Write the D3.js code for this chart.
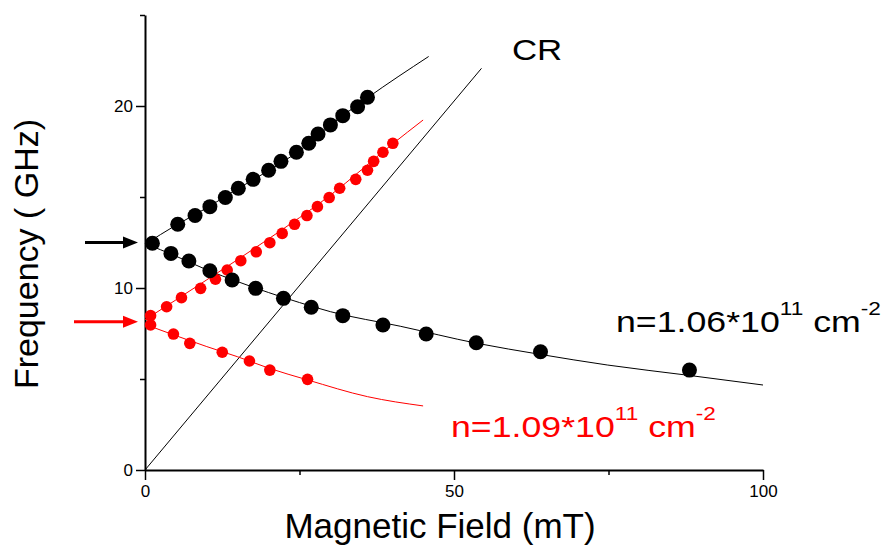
<!DOCTYPE html>
<html>
<head>
<meta charset="utf-8">
<script src="https://cdn.jsdelivr.net/npm/d3@7"></script>
<style>
  body { margin: 0; background: #fff; }
  text { font-family: "Liberation Sans", Arial, sans-serif; }
  .tick text { font-size: 17px; }
</style>
</head>
<body>
<svg id="chart" width="889" height="546"></svg>
<script>
// measured data points, field in mT, frequency in GHz
var blackUpperB = [1.2, 5.3, 8.1, 10.5, 13.0, 15.1, 17.5, 20.0, 22.0, 24.5, 26.5, 28.0, 30.0, 32.0, 34.4, 36.0];
var blackUpperF = [12.46, 13.5, 13.98, 14.47, 14.97, 15.48, 15.97, 16.47, 16.96, 17.46, 17.95, 18.46, 18.96, 19.47, 19.96, 20.48];
var blackLowerB = [4.2, 7.1, 10.5, 14.1, 17.9, 22.4, 26.9, 32.0, 38.5, 45.5, 53.6, 64.0, 88.1];
var blackLowerF = [11.9, 11.48, 10.95, 10.44, 9.98, 9.43, 8.94, 8.48, 7.97, 7.47, 6.99, 6.5, 5.49];
var redUpperB = [0.9, 3.5, 5.9, 9.0, 11.4, 13.3, 15.5, 18.0, 20.2, 22.2, 24.2, 26.2, 27.9, 29.8, 31.5, 34.1, 36.0, 37.0, 38.5, 40.1];
var redUpperF = [8.48, 8.97, 9.47, 9.98, 10.48, 10.99, 11.5, 11.99, 12.49, 13.0, 13.5, 13.98, 14.47, 14.97, 15.48, 15.97, 16.47, 16.96, 17.46, 17.95];
var redLowerB = [0.9, 4.6, 7.25, 12.5, 16.9, 20.2, 26.3];
var redLowerF = [7.97, 7.47, 6.96, 6.47, 5.99, 5.49, 4.98];

// fit curves
var fitBlackUpperB = [0, 5, 10, 15, 20, 25, 30, 36, 45.9];
var fitBlackUpperF = [12.4, 13.45, 14.4, 15.45, 16.45, 17.55, 18.95, 20.45, 22.72];
var fitBlackLowerB = [0, 5, 10, 15, 20, 25, 30, 41.3, 53.6, 64, 74.8, 88, 100];
var fitBlackLowerF = [12.45, 11.75, 11.0, 10.35, 9.75, 9.2, 8.7, 7.9, 6.97, 6.35, 5.77, 5.2, 4.67];
var fitRedUpperB = [0, 10, 20, 30, 40, 45];
var fitRedUpperF = [8.25, 10.45, 12.7, 15.1, 17.9, 19.23];
var fitRedLowerB = [0, 5, 10, 15, 20, 26.3, 36, 45];
var fitRedLowerF = [8.0, 7.38, 6.78, 6.22, 5.6, 4.95, 4.03, 3.52];
var crB = [0, 54.45];
var crF = [0, 22.07];

var arrowF = [12.5, 8.15];
var arrowColors = ["#000", "#f00"];

var xMajor = [0, 50, 100], xMinor = [25, 75];
var yMajor = [0, 10, 20], yMinor = [5, 15, 25];

var svg = d3.select("#chart");
var margin = {top: 15, left: 145, right: 126, bottom: 76};
var width = 889 - margin.left - margin.right;
var height = 546 - margin.top - margin.bottom;

var x = d3.scaleLinear().domain([0, 100]).range([0, width]);
var y = d3.scaleLinear().domain([0, 25]).range([height, 0]);

var g = svg.append("g").attr("transform", "translate(" + margin.left + "," + margin.top + ")");

var zip = function(a, b) { return a.map(function(v, i) { return [v, b[i]]; }); };
var line = d3.line().x(function(d) { return x(d[0]); }).y(function(d) { return y(d[1]); });
var curve = d3.line().curve(d3.curveMonotoneX).x(function(d) { return x(d[0]); }).y(function(d) { return y(d[1]); });

// axes
g.append("g").attr("transform", "translate(0," + height + ")")
    .call(d3.axisBottom(x).tickValues(xMajor).tickSize(10).tickSizeOuter(0).tickPadding(5));
g.append("g").attr("transform", "translate(0," + height + ")")
    .call(d3.axisBottom(x).tickValues(xMinor).tickSize(5).tickSizeOuter(0).tickFormat(""))
    .select(".domain").remove();
g.append("g")
    .call(d3.axisLeft(y).tickValues(yMajor).tickSize(9).tickSizeOuter(0).tickPadding(3));
g.append("g")
    .call(d3.axisLeft(y).tickValues(yMinor).tickSize(5).tickSizeOuter(0).tickFormat(""))
    .select(".domain").remove();
g.selectAll(".domain").attr("stroke-width", 2);
g.selectAll(".tick line").attr("stroke-width", 1.5);
g.selectAll(".tick text").style("font-size", "17px");

// lines
g.append("path").datum(zip(crB, crF)).attr("d", line).attr("fill", "none").attr("stroke", "#000").attr("stroke-width", 1);
g.append("path").datum(zip(fitBlackUpperB, fitBlackUpperF)).attr("d", curve).attr("fill", "none").attr("stroke", "#000").attr("stroke-width", 1);
g.append("path").datum(zip(fitBlackLowerB, fitBlackLowerF)).attr("d", curve).attr("fill", "none").attr("stroke", "#000").attr("stroke-width", 1);
g.append("path").datum(zip(fitRedUpperB, fitRedUpperF)).attr("d", curve).attr("fill", "none").attr("stroke", "#f00").attr("stroke-width", 1);
g.append("path").datum(zip(fitRedLowerB, fitRedLowerF)).attr("d", curve).attr("fill", "none").attr("stroke", "#f00").attr("stroke-width", 1);

// dots
var dots = function(bs, fs, color, r) {
    g.selectAll(null).data(zip(bs, fs)).enter().append("circle")
        .attr("cx", function(d) { return x(d[0]); })
        .attr("cy", function(d) { return y(d[1]); })
        .attr("r", r)
        .attr("fill", color);
};
dots(redUpperB, redUpperF, "#f00", 5.8);
dots(redLowerB, redLowerF, "#f00", 5.8);
dots(blackUpperB, blackUpperF, "#000", 7.5);
dots(blackLowerB, blackLowerF, "#000", 7.5);

// arrows pointing at zero-field frequencies
arrowF.forEach(function(f, i) {
    var yy = y(f);
    var len = i == 0 ? 52 : 63;
    g.append("line").attr("x1", -8 - len).attr("x2", -20).attr("y1", yy).attr("y2", yy)
        .attr("stroke", arrowColors[i]).attr("stroke-width", 3);
    g.append("path").attr("d", "M-7," + yy + "L-22," + (yy - 6) + "L-22," + (yy + 6) + "Z")
        .attr("fill", arrowColors[i]);
});

// labels (the original is a bit stretched sideways)
svg.append("text").attr("transform", "translate(512,60) scale(1.16,1)")
    .attr("font-size", 30).text("CR");

var density = function(xx, yy, mant, color) {
    var t = svg.append("text").attr("transform", "translate(" + xx + "," + yy + ") scale(1.19,1)")
        .attr("font-size", 30).attr("fill", color);
    t.append("tspan").text("n=" + mant + "*10");
    t.append("tspan").attr("dy", -17).attr("font-size", 19).text("11");
    t.append("tspan").attr("dy", 17).text(" cm");
    t.append("tspan").attr("dy", -17).attr("font-size", 19).text("-2");
};
density(616, 332, "1.06", "#000");
density(451, 437, "1.09", "#f00");

svg.append("text").attr("x", 440).attr("y", 538)
    .attr("text-anchor", "middle").attr("font-size", 35).text("Magnetic Field (mT)");
svg.append("text").attr("transform", "translate(38,254) rotate(-90)")
    .attr("text-anchor", "middle").attr("font-size", 34).text("Frequency ( GHz)");
</script>
</body>
</html>
